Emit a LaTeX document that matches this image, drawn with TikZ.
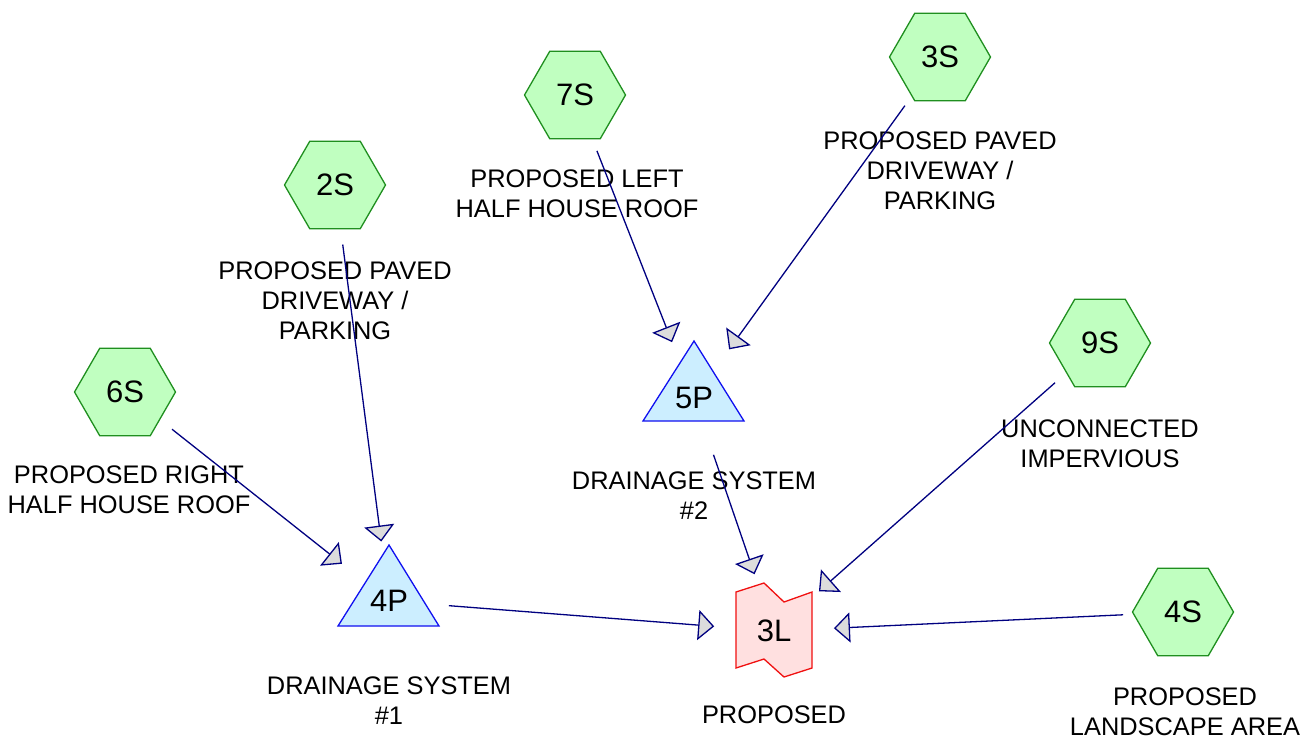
\documentclass[tikz,border=0pt]{standalone}
\usepackage{fontspec}
\setmainfont{Liberation Sans}
\usetikzlibrary{arrows.meta,shapes.geometric}

\definecolor{hexfill}{HTML}{C0FFC0}
\definecolor{hexline}{HTML}{1F8F1F}
\definecolor{pondfill}{HTML}{CCEEFF}
\definecolor{pondline}{HTML}{1010F0}
\definecolor{linkfill}{HTML}{FFE0E0}
\definecolor{linkline}{HTML}{F01010}
\definecolor{flowline}{HTML}{000080}
\definecolor{headfill}{HTML}{DCDCDC}

\tikzset{
  subcat/.style={regular polygon, regular polygon sides=6, minimum size=101pt,
    inner sep=0pt, draw=hexline, fill=hexfill, line width=1.3pt,
    font=\fontsize{31}{36}\selectfont},
  idtext/.style={font=\fontsize{31}{36}\selectfont, inner sep=0pt},
  desc/.style={font=\fontsize{25.4}{30}\selectfont, align=center, inner sep=0pt},
  pondshape/.style={draw=pondline, fill=pondfill, line width=1.3pt},
  linkshape/.style={draw=linkline, fill=linkfill, line width=1.3pt},
  flow/.style={draw=flowline, line width=1.3pt, shorten <=60pt, shorten >=60pt,
    -{Triangle[length=16pt,width=30pt,fill=headfill]}},
}

\begin{document}
\begin{tikzpicture}[x=1pt,y=-1pt]
  \useasboundingbox (0,0) rectangle (1307,740);

  % subcatchments
  \node[subcat] (7S) at (575,95)   {7S};
  \node[subcat] (3S) at (940,57)   {3S};
  \node[subcat] (2S) at (335,185)  {2S};
  \node[subcat] (6S) at (125,392)  {6S};
  \node[subcat] (9S) at (1100,343) {9S};
  \node[subcat] (4S) at (1183,612) {4S};

  % ponds
  \draw[pondshape] (389,545) -- (439,626) -- (338,626) -- cycle;
  \node[idtext] (4P) at (389,601) {4P};
  \draw[pondshape] (694,341) -- (744,421) -- (643,421) -- cycle;
  \node[idtext] (5P) at (694,398) {5P};

  % link
  \draw[linkshape] (736,592) -- (764,583) -- (784,602) -- (812,592)
    -- (812,668) -- (784,677) -- (764,659) -- (736,668) -- cycle;
  \node[idtext] (3L) at (774,631) {3L};

  % descriptions
  \node[desc] (d7S) at (577,194)  {PROPOSED LEFT\\HALF HOUSE ROOF};
  \node[desc] (d3S) at (940,171)  {PROPOSED PAVED\\DRIVEWAY /\\PARKING};
  \node[desc] (d2S) at (335,301)  {PROPOSED PAVED\\DRIVEWAY /\\PARKING};
  \node[desc] (d6S) at (129,490)  {PROPOSED RIGHT\\HALF HOUSE ROOF};
  \node[desc] (d9S) at (1100,444) {UNCONNECTED\\IMPERVIOUS};
  \node[desc] (d4S) at (1185,712) {PROPOSED\\LANDSCAPE AREA};
  \node[desc] (d4P) at (389,701)  {DRAINAGE SYSTEM\\\#1};
  \node[desc] (d5P) at (694,496)  {DRAINAGE SYSTEM\\\#2};
  \node[desc] (d3L) at (774,715)  {PROPOSED};

  % flow connections
  \draw[flow] (2S.center) -- (4P.center);
  \draw[flow] (6S.center) -- (4P.center);
  \draw[flow] (4P.center) -- (3L.center);
  \draw[flow] (7S.center) -- (5P.center);
  \draw[flow] (3S.center) -- (5P.center);
  \draw[flow] (5P.center) -- (3L.center);
  \draw[flow] (9S.center) -- (3L.center);
  \draw[flow] (4S.center) -- (3L.center);
\end{tikzpicture}
\end{document}
